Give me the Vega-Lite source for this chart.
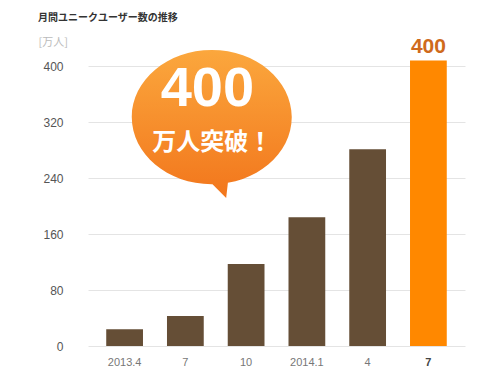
{
  "$schema": "https://vega.github.io/schema/vega-lite/v6.json",
  "autosize": "none",
  "width": 416,
  "height": 308,
  "padding": {"left": 84, "top": 38, "right": 0, "bottom": 29},
  "background": "white",
  "config": {"view": {"stroke": null}, "font": "Liberation Sans"},
  "title": {
    "text": "月間ユニークユーザー数の推移",
    "anchor": "start",
    "frame": "group",
    "font": "Noto Sans CJK JP",
    "fontSize": 10,
    "fontWeight": "bold",
    "color": "#333333",
    "dx": -46,
    "offset": 13
  },
  "datasets": {
    "users": [
      {"month": "2013.4", "users": 24},
      {"month": "2013.7", "users": 43},
      {"month": "2013.10", "users": 117},
      {"month": "2014.1", "users": 184},
      {"month": "2014.4", "users": 281},
      {"month": "2014.7", "users": 408, "label": "400"}
    ]
  },
  "layer": [
    {
      "data": {"name": "users"},
      "mark": {"type": "bar"},
      "encoding": {
        "x": {
          "field": "month",
          "type": "nominal",
          "sort": null,
          "scale": {"range": [4, 381], "paddingInner": 0.395, "paddingOuter": 0.3},
          "axis": {
            "title": null,
            "domain": false,
            "ticks": false,
            "labelAngle": 0,
            "labelPadding": 10,
            "labelFontSize": 11,
            "labelColor": {"condition": {"test": "datum.value == '2014.7'", "value": "#444444"}, "value": "#777777"},
            "labelFontWeight": {"condition": {"test": "datum.value == '2014.7'", "value": "bold"}, "value": "normal"},
            "labelExpr": "datum.value == '2013.4' || datum.value == '2014.1' ? datum.value : split(datum.value, '.')[1]"
          }
        },
        "y": {
          "field": "users",
          "type": "quantitative",
          "scale": {"domain": [0, 440], "nice": false},
          "axis": {
            "values": [0, 80, 160, 240, 320, 400],
            "domain": false,
            "ticks": false,
            "grid": true,
            "gridColor": "#e4e4e4",
            "labelPadding": 21,
            "labelFontSize": 12,
            "labelColor": "#555555",
            "title": "[万人]",
            "titleFont": "Noto Sans CJK JP",
            "titleFontSize": 11,
            "titleFontWeight": "normal",
            "titleColor": "#bbbbbb",
            "titleAngle": 0,
            "titleAlign": "left",
            "titleBaseline": "middle",
            "titleX": -46,
            "titleY": 4
          }
        },
        "color": {
          "condition": {"test": "datum.month == '2014.7'", "value": "#ff8800"},
          "value": "#654e36"
        }
      }
    },
    {
      "data": {"name": "users"},
      "transform": [{"filter": "datum.month == '2014.7'"}],
      "mark": {
        "type": "text",
        "baseline": "bottom",
        "dy": -3,
        "fontSize": 21,
        "fontWeight": "bold",
        "color": "#cf6a1c"
      },
      "encoding": {
        "x": {"field": "month", "type": "nominal", "sort": null},
        "y": {"field": "users", "type": "quantitative"},
        "text": {"field": "label"}
      }
    },
    {
      "data": {"values": [{"month": "2013.7", "users": 327}]},
      "mark": {
        "type": "point",
        "filled": true,
        "opacity": 1,
        "size": 25600,
        "shape": "M -0.67 0 A 1 0.84 0 1 1 1.33 0 A 1 0.84 0 1 1 -0.67 0 Z M 0.28 0.78 L 0.54 0.75 L 0.51 1.01 Z",
        "fill": {
          "gradient": "linear",
          "x1": 0, "y1": 0, "x2": 0, "y2": 1,
          "stops": [
            {"offset": 0, "color": "#fba73d"},
            {"offset": 1, "color": "#f2761c"}
          ]
        },
        "strokeWidth": 0
      },
      "encoding": {
        "x": {"field": "month", "type": "nominal", "sort": null},
        "y": {"field": "users", "type": "quantitative"}
      }
    },
    {
      "data": {"values": [{"month": "2013.7", "users": 367, "text": "400"}]},
      "mark": {
        "type": "text",
        "dx": 22,
        "baseline": "middle",
        "fontSize": 56,
        "fontWeight": "bold",
        "color": "white"
      },
      "encoding": {
        "x": {"field": "month", "type": "nominal", "sort": null},
        "y": {"field": "users", "type": "quantitative"},
        "text": {"field": "text"}
      }
    },
    {
      "data": {"values": [{"month": "2013.7", "users": 290, "text": "万人突破！"}]},
      "mark": {
        "type": "text",
        "dx": 27,
        "baseline": "middle",
        "font": "Noto Sans CJK JP",
        "fontSize": 24,
        "fontWeight": "bold",
        "color": "white"
      },
      "encoding": {
        "x": {"field": "month", "type": "nominal", "sort": null},
        "y": {"field": "users", "type": "quantitative"},
        "text": {"field": "text"}
      }
    }
  ]
}
